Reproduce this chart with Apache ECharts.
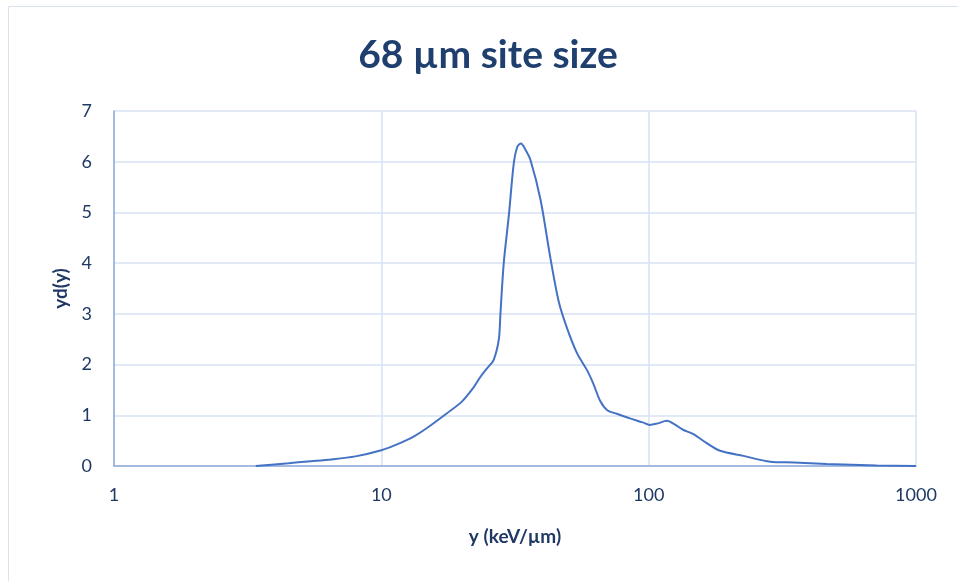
<!DOCTYPE html>
<html>
<head>
<meta charset="utf-8">
<script src="https://cdn.jsdelivr.net/npm/echarts@6/dist/echarts.min.js"></script>
<style>
html,body{margin:0;padding:0;background:#fff;}
#chart{width:958px;height:581px;}
</style>
</head>
<body>
<div id="chart"></div>
<script>
const titleText = "68 µm site size";
const xAxisName = "y (keV/µm)";
const yAxisName = "yd(y)";
const yTicks = [0, 1, 2, 3, 4, 5, 6, 7];
const xTicks = [1, 10, 100, 1000];

const xs = [3.39, 4.5, 5.3, 6.5, 8, 10, 11.5, 13.2, 15, 17.6, 20, 22.2, 23.5, 24.9, 26.3, 27.5, 27.9, 28.7, 30, 31.3, 32.3, 33.3, 34.5, 36.1, 39.4, 42.9, 46.1, 49.5, 54, 58.8, 62, 65.9, 70, 76, 85, 95, 101, 108, 117, 125, 135, 147, 165, 185, 226, 285, 350, 463, 713, 1000];
const ys = [0, 0.055, 0.09, 0.13, 0.19, 0.31, 0.43, 0.58, 0.77, 1.04, 1.27, 1.56, 1.76, 1.93, 2.09, 2.49, 3.01, 4.0, 4.95, 5.97, 6.3, 6.36, 6.25, 6.04, 5.25, 4.1, 3.24, 2.72, 2.22, 1.89, 1.63, 1.28, 1.1, 1.03, 0.94, 0.86, 0.81, 0.84, 0.89, 0.82, 0.71, 0.63, 0.45, 0.30, 0.20, 0.085, 0.07, 0.04, 0.01, 0];

const data = xs.map((x, i) => [x, ys[i]]);
const txtColor = '#1f3864';
const font = 'Lato';

const chart = echarts.init(document.getElementById('chart'));
chart.setOption({
  animation: false,
  backgroundColor: '#fff',
  graphic: [
    { type: 'rect', shape: { x: 8.5, y: 6.5, width: 1000, height: 1000 }, style: { fill: 'none', stroke: '#d9e2ee', lineWidth: 1 }, silent: true },
    { type: 'text', x: 488, y: 55, style: { text: titleText, font: 'bold 39px Lato', fill: '#1f3f6e', textAlign: 'center', textVerticalAlign: 'middle' } }
  ],
  grid: { left: 114, right: 42, top: 111, bottom: 115, containLabel: false },
  xAxis: {
    type: 'log', logBase: 10, min: xTicks[0], max: xTicks[xTicks.length - 1],
    name: xAxisName, nameLocation: 'middle', nameGap: 61,
    nameTextStyle: { fontFamily: font, fontWeight: 'bold', fontSize: 19, color: txtColor },
    axisLine: { show: true, lineStyle: { color: '#8eaadb', width: 1.5 } },
    axisTick: { show: false },
    axisLabel: { fontFamily: font, fontSize: 18, color: txtColor, margin: 20, formatter: v => String(Math.round(v)) },
    splitLine: { show: true, lineStyle: { color: '#d9e2f3', width: 1.5 } },
    minorTick: { show: false }
  },
  yAxis: {
    type: 'value', min: yTicks[0], max: yTicks[yTicks.length - 1], interval: 1,
    name: yAxisName, nameLocation: 'middle', nameGap: 43,
    nameTextStyle: { fontFamily: font, fontWeight: 'bold', fontSize: 19, color: txtColor },
    axisLine: { show: true, lineStyle: { color: '#8eaadb', width: 1.5 } },
    axisTick: { show: false },
    axisLabel: { fontFamily: font, fontSize: 18, color: txtColor, margin: 22 },
    splitLine: { show: true, lineStyle: { color: '#d9e2f3', width: 1.5 } }
  },
  series: [{
    type: 'line', data: data, smooth: 0.3, showSymbol: false, symbol: 'none',
    lineStyle: { color: '#4472c4', width: 2 }, z: 5
  }]
});
</script>
</body>
</html>
